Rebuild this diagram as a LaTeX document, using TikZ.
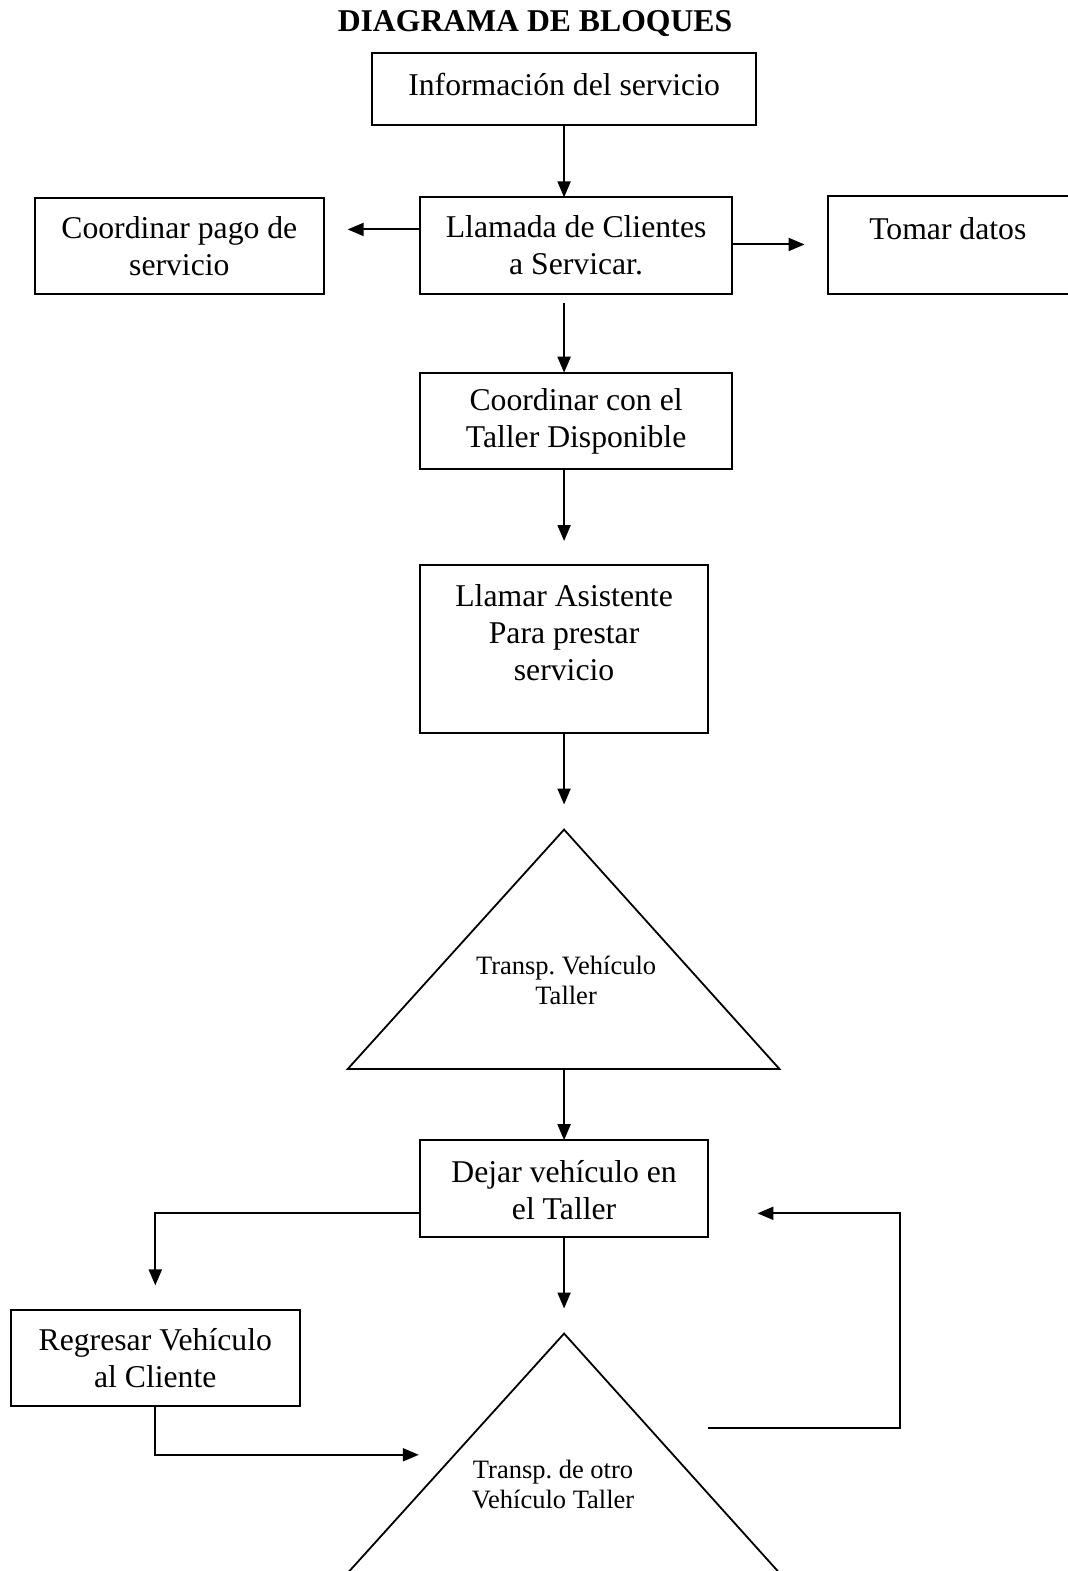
\documentclass[tikz,border=0pt]{standalone}
\usepackage{fontspec}
\setmainfont{Liberation Serif}
\usetikzlibrary{arrows.meta}
\frenchspacing
\begin{document}
\begin{tikzpicture}[x=1.002pt,y=-1.002pt,
  box/.style={draw,line width=2pt,inner sep=0pt},
  txt/.style={inner sep=0pt,align=center,font=\fontsize{31.7}{37}\selectfont},
  small/.style={inner sep=0pt,align=center,font=\fontsize{26.5}{30}\selectfont},
  conn/.style={line width=2pt,-{Triangle[length=16pt,width=13pt]}},
  plain/.style={line width=1.8pt}]
\useasboundingbox (0,0) rectangle (1065,1568);
% title
\node[txt,font=\bfseries\fontsize{31.7}{37}\selectfont] (title) at (534,24) {DIAGRAMA DE BLOQUES};
% boxes
\draw[box] (371,53) rectangle (755,125);
\coordinate (infoT) at (563,53); \coordinate (infoB) at (563,125);
\node[txt] (info) at (563,84) {Información del servicio};

\draw[box] (419,197) rectangle (731,293);
\node[txt] (llam) at (575,245) {Llamada de Clientes\\a Servicar.};
\coordinate (llamT) at (563,197);
\coordinate (llamL) at (419,229);
\coordinate (llamR) at (731,244);
\coordinate (llamB) at (563,302);

\draw[box] (35,198) rectangle (323,293);
\node[txt] (pago) at (179,246) {Coordinar pago de\\servicio};
\coordinate (pagoR) at (347,229);

\draw[box] (826,196) rectangle (1075,293);
\node[txt] (tomar) at (946,228) {Tomar datos};
\coordinate (tomarL) at (803,244);

\draw[box] (419,372) rectangle (731,468);
\node[txt] (coord) at (575,421) {Coordinar con el\\Taller Disponible};
\coordinate (coordT) at (563,372);
\coordinate (coordB) at (563,468);

\draw[box] (419,564) rectangle (707,732);
\node[txt] (llamar) at (563,631) {Llamar Asistente\\Para prestar\\servicio};
\coordinate (llamarT) at (563,540);
\coordinate (llamarB) at (563,732);

% triangle 1
\coordinate (t1apex) at (563,828);
\draw[plain,line join=miter] (t1apex) -- (778,1067) -- (347,1067) -- cycle;
\node[small] (tri1) at (565,979) {Transp. Vehículo\\Taller};
\coordinate (t1in) at (563,803);
\coordinate (t1B) at (563,1067);

\draw[box] (419,1138) rectangle (707,1235);
\node[txt] (dejar) at (563,1188) {Dejar vehículo en\\el Taller};
\coordinate (dejarT) at (563,1138);
\coordinate (dejarL) at (419,1211);
\coordinate (dejarB) at (563,1235);
\coordinate (dejarR) at (756,1211);

\draw[box] (11,1307) rectangle (299,1403);
\node[txt] (regr) at (155,1356) {Regresar Vehículo\\al Cliente};
\coordinate (regrT) at (155,1283);
\coordinate (regrB) at (155,1403);

% triangle 2
\coordinate (t2apex) at (563,1331);
\draw[plain,line join=miter] (t2apex) -- (778,1570) -- (347,1570) -- cycle;
\node[small] (tri2) at (552,1482) {Transp. de otro\\Vehículo Taller};
\coordinate (t2in) at (563,1306);
\coordinate (t2L) at (418,1452);
\coordinate (t2R) at (707,1425);

% connectors
\draw[conn] (infoB) -- (llamT);
\draw[conn] (llamL) -- (pagoR);
\draw[conn] (llamR) -- (tomarL);
\draw[conn] (llamB) -- (coordT);
\draw[conn] (coordB) -- (llamarT);
\draw[conn] (llamarB) -- (t1in);
\draw[conn] (t1B) -- (dejarT);
\draw[conn] (dejarL) -| (regrT);
\draw[conn] (dejarB) -- (t2in);
\draw[conn] (regrB) |- (t2L);
\draw[conn] (t2R) -- (898,1425) |- (dejarR);
\end{tikzpicture}
\end{document}
